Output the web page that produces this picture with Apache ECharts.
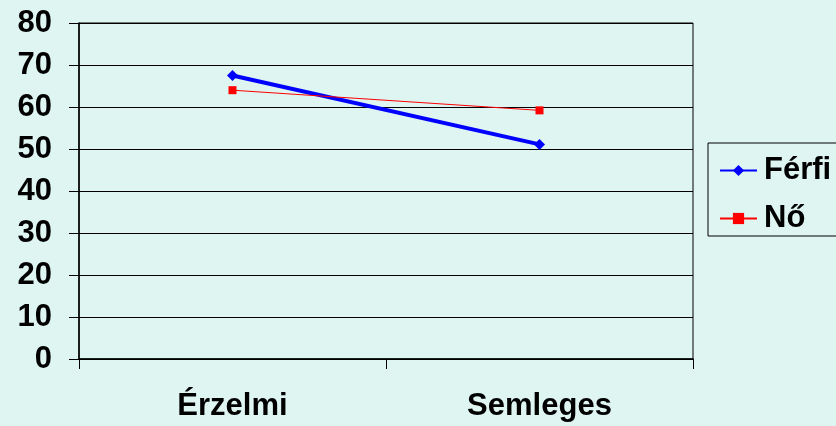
<!DOCTYPE html>
<html>
<head>
<meta charset="utf-8">
<script src="https://cdn.jsdelivr.net/npm/echarts@6/dist/echarts.min.js"></script>
<style>
  html, body { margin: 0; padding: 0; background: #DEF5F1; }
  #chart { width: 836px; height: 426px; }
</style>
</head>
<body>
<div id="chart"></div>
<script>
var categories = ['Érzelmi', 'Semleges']
var ferfi = [67.5, 51.1]
var no = [64.0, 59.2]

var chart = echarts.init(document.getElementById('chart'))

var labelFont = {
    color: '#000',
    fontFamily: 'Liberation Sans, Arial, sans-serif',
    fontWeight: 'bold',
    fontSize: 31
}

var option = {
    backgroundColor: '#DEF5F1',
    animation: false,
    grid: {
        left: 79,
        top: 23,
        width: 614,
        height: 336,
        show: true,
        borderColor: '#000',
        borderWidth: 1
    },
    legend: {
        orient: 'vertical',
        left: 708,
        top: 143,
        padding: [12, 40, 2, 11],
        itemGap: 17,
        itemWidth: 37,
        itemHeight: 14,
        borderColor: '#000',
        borderWidth: 1,
        textStyle: Object.assign({ padding: [0, 0, 0, 2] }, labelFont),
        data: ['Férfi', 'Nő']
    },
    xAxis: {
        type: 'category',
        data: categories,
        boundaryGap: true,
        axisLine: { lineStyle: { color: '#000', width: 1.5 } },
        axisTick: { show: true, length: 10, lineStyle: { color: '#000' } },
        axisLabel: Object.assign({ margin: 32 }, labelFont),
        splitLine: { show: false }
    },
    yAxis: {
        type: 'value',
        min: 0,
        max: 80,
        interval: 10,
        axisLine: { show: true, lineStyle: { color: '#000', width: 1.5 } },
        axisTick: { show: true, length: 10, lineStyle: { color: '#000' } },
        axisLabel: Object.assign({ margin: 27 }, labelFont),
        splitLine: { lineStyle: { color: '#000', width: 1 } }
    },
    series: [
        {
            name: 'Férfi',
            type: 'line',
            data: ferfi,
            symbol: 'diamond',
            symbolSize: 11,
            color: '#0000FF',
            lineStyle: { width: 4, color: '#0000FF' },
            itemStyle: { color: '#0000FF' }
        },
        {
            name: 'Nő',
            type: 'line',
            data: no,
            symbol: 'rect',
            symbolSize: 8,
            color: '#FF0000',
            lineStyle: { width: 1, color: '#FF0000' },
            itemStyle: { color: '#FF0000' }
        }
    ]
}

chart.setOption(option)
</script>
</body>
</html>
